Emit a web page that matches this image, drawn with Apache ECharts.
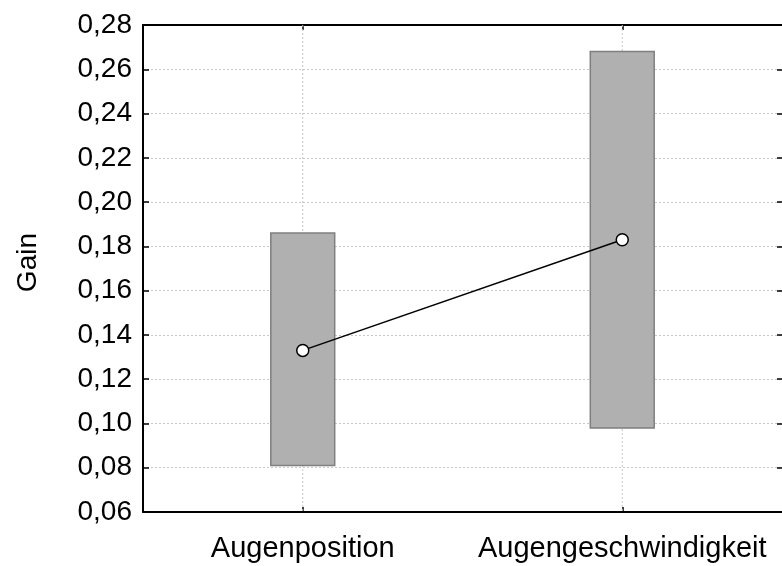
<!DOCTYPE html>
<html>
<head>
<meta charset="utf-8">
<script src="https://cdn.jsdelivr.net/npm/echarts@6/dist/echarts.min.js"></script>
<style>html,body{margin:0;padding:0;background:#fff;}#c{width:782px;height:566px;}</style>
</head>
<body>
<div id="c"></div>
<script>
var categories = ['Augenposition', 'Augengeschwindigkeit'];
var means = [0.133, 0.183];
var upper = [0.186, 0.268];
var lower = [0.081, 0.098];
var yMin = 0.06, yMax = 0.28, yStep = 0.02;

var FONT = '"Liberation Sans", Arial, sans-serif';
var chart = echarts.init(document.getElementById('c'), null, {renderer: 'canvas'});
var fmt = function (v) { return v.toFixed(2).replace('.', ','); };
var gridLine = {color: '#c8c8c8', width: 1, type: [2, 2]};

var boxData = categories.map(function (c, i) { return [i, lower[i], upper[i]]; });

var option = {
  animation: false,
  backgroundColor: '#ffffff',
  grid: {left: 143, right: -1, top: 25, bottom: 54, containLabel: false},
  xAxis: [{
    type: 'category', data: categories, position: 'bottom', boundaryGap: true,
    axisLine: {show: true, lineStyle: {color: '#000', width: 2}},
    axisTick: {show: true, inside: true, length: 5, alignWithLabel: true, lineStyle: {color: '#000', width: 1.5}},
    axisLabel: {color: '#000', fontSize: 29, fontFamily: FONT, margin: 22, interval: 0, hideOverlap: false},
    splitLine: {show: false}
  }, {
    type: 'category', data: categories, position: 'top', boundaryGap: true,
    axisLine: {show: true, lineStyle: {color: '#000', width: 2}},
    axisTick: {show: true, inside: true, length: 5, alignWithLabel: true, lineStyle: {color: '#000', width: 1.5}},
    axisLabel: {show: false},
    splitLine: {show: false}
  }],
  yAxis: [{
    type: 'value', min: yMin, max: yMax, interval: yStep, position: 'left',
    axisLine: {show: true, lineStyle: {color: '#000', width: 2}},
    axisTick: {show: true, inside: true, length: 6, lineStyle: {color: '#000', width: 1.5}},
    axisLabel: {color: '#000', fontSize: 28, fontFamily: FONT, margin: 11, formatter: fmt},
    splitLine: {show: true, lineStyle: gridLine}
  }, {
    type: 'value', min: yMin, max: yMax, interval: yStep, position: 'right',
    axisLine: {show: false},
    axisTick: {show: true, inside: true, length: 5, lineStyle: {color: '#000', width: 1.5}},
    axisLabel: {show: false},
    splitLine: {show: false}
  }],
  graphic: [{
    type: 'text', left: 14, top: 233, rotation: Math.PI / 2,
    style: {text: 'Gain', fill: '#000', fontSize: 28, fontFamily: FONT}
  }],
  series: [{
    type: 'custom',
    xAxisIndex: 0, yAxisIndex: 0,
    data: boxData,
    z: 2,
    renderItem: function (params, api) {
      var x = api.value(0);
      var lo = api.coord([x, api.value(1)]);
      var hi = api.coord([x, api.value(2)]);
      var top = api.coord([x, yMax]);
      var bot = api.coord([x, yMin]);
      var w = api.size([1, 0])[0] * 0.2;
      return {
        type: 'group',
        children: [{
          type: 'line',
          shape: {x1: top[0], y1: top[1], x2: bot[0], y2: bot[1]},
          style: {stroke: '#c8c8c8', lineWidth: 1, lineDash: [2, 2]}
        }, {
          type: 'rect',
          shape: {x: lo[0] - w / 2, y: hi[1], width: w, height: lo[1] - hi[1]},
          style: {fill: '#b0b0b0', stroke: '#7f7f7f', lineWidth: 1.5}
        }]
      };
    }
  }, {
    type: 'line',
    xAxisIndex: 0, yAxisIndex: 0,
    data: means,
    z: 5,
    symbol: 'circle', symbolSize: 12,
    itemStyle: {color: '#ffffff', borderColor: '#000', borderWidth: 1.5},
    lineStyle: {color: '#000', width: 1.5}
  }]
};
chart.setOption(option);
</script>
</body>
</html>
